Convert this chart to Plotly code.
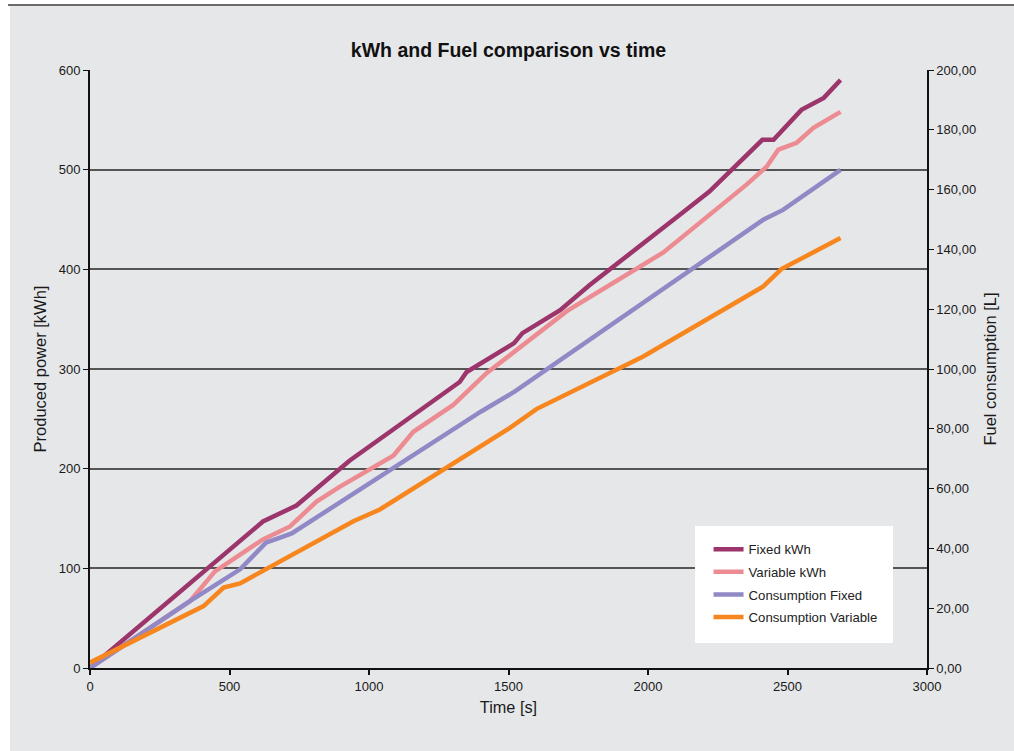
import plotly.graph_objects as go

# ---- data ----
fixed_kwh_t = [0, 620, 740, 930, 1325, 1350, 1520, 1550, 1685, 1790, 2120, 2220, 2410, 2450, 2550, 2630, 2690]
fixed_kwh_v = [0, 147, 163, 208, 287, 297, 326, 336, 359, 384, 456, 478, 530, 530, 560, 572, 590]

var_kwh_t = [0, 358, 448, 620, 717, 812, 896, 1087, 1159, 1302, 1422, 1709, 2055, 2353, 2425, 2467, 2533, 2593, 2690]
var_kwh_v = [0, 67, 97, 129, 142, 167, 182, 213, 237, 264, 296, 358, 417, 485, 503, 520, 527, 542, 558]

cons_fixed_t = [0, 358, 538, 631, 723, 1402, 1523, 2413, 2484, 2690]
cons_fixed_v = [0, 22.4, 33.0, 41.9, 45.0, 85.8, 92.5, 149.9, 153.2, 166.6]

cons_var_t = [0, 407, 479, 538, 944, 1039, 1505, 1600, 1983, 2413, 2478, 2690]
cons_var_v = [1.8, 20.7, 26.9, 28.3, 49.1, 53.0, 80.3, 86.6, 104.2, 127.6, 133.4, 143.8]

series_names = ["Fixed kWh", "Variable kWh", "Consumption Fixed", "Consumption Variable"]
colors = ["#9c356b", "#ec8c92", "#9189c6", "#f7861e"]

FONT = "Liberation Sans, Arial, Helvetica, sans-serif"

fig = go.Figure()
fig.add_trace(go.Scatter(x=fixed_kwh_t, y=fixed_kwh_v, mode="lines", name=series_names[0],
                         legendgroup="g1", line=dict(color=colors[0], width=4.5)))
fig.add_trace(go.Scatter(x=var_kwh_t, y=var_kwh_v, mode="lines", name=series_names[1],
                         legendgroup="g2", line=dict(color=colors[1], width=4.5)))
fig.add_trace(go.Scatter(x=cons_fixed_t, y=cons_fixed_v, mode="lines", name=series_names[2],
                         legendgroup="g3", line=dict(color=colors[2], width=4.5), yaxis="y2"))
fig.add_trace(go.Scatter(x=cons_var_t, y=cons_var_v, mode="lines", name=series_names[3],
                         legendgroup="g4", line=dict(color=colors[3], width=4.5), yaxis="y2"))

# grey panel background and top rule
fig.add_shape(type="rect", xref="paper", yref="paper", x0=-0.0956, x1=1.12, y0=-0.145, y1=1.107,
              fillcolor="#e6e7e9", line=dict(width=0), layer="below")
fig.add_shape(type="line", xref="paper", yref="paper", x0=-0.098, x1=1.12, y0=1.1087, y1=1.1087,
              line=dict(color="#6b6b6b", width=2), layer="below")
# white legend box
fig.add_shape(type="rect", xref="paper", yref="paper", x0=0.7228, x1=0.9594, y0=0.0418, y1=0.2375,
              fillcolor="white", line=dict(width=0), layer="above")

fig.update_layout(
    width=1014, height=751,
    margin=dict(l=90, r=87, t=70, b=83),
    paper_bgcolor="white",
    plot_bgcolor="rgba(0,0,0,0)",
    separators=",.",
    font=dict(family=FONT, size=13, color="#1a1a1a"),
    title=dict(text="<b>kWh and Fuel comparison vs time</b>", x=0.5, xref="paper", xanchor="center",
               y=1 - 50 / 751, yref="container", yanchor="middle", font=dict(size=19.5, color="#111")),
    showlegend=True,
    legend=dict(x=0.739, y=0.224, xanchor="left", yanchor="top", bgcolor="rgba(0,0,0,0)",
                borderwidth=0, font=dict(size=13.2, color="#222"), tracegroupgap=2.5,
                itemwidth=30, traceorder="grouped"),
    xaxis=dict(range=[0, 3000], dtick=500, showgrid=False, zeroline=False,
               showline=True, linecolor="#111", linewidth=2, ticks="outside", ticklen=5,
               tickcolor="#111", tickwidth=1.5, separatethousands=False,
               title=dict(text="Time [s]", font=dict(size=16.3), standoff=9),
               tickfont=dict(size=13)),
    yaxis=dict(range=[0, 600], dtick=100, showgrid=True, gridcolor="#555555", gridwidth=1.5,
               zeroline=False, showline=True, linecolor="#111", linewidth=2,
               ticks="outside", ticklen=5, tickcolor="#111", tickwidth=1.2,
               title=dict(text="Produced power [kWh]", font=dict(size=16.5), standoff=8),
               tickfont=dict(size=13)),
    yaxis2=dict(range=[0, 200], dtick=20, overlaying="y", side="right", showgrid=False,
                zeroline=False, showline=True, linecolor="#111", linewidth=1.5,
                ticks="outside", ticklen=5, tickcolor="#111", tickwidth=1.2, tickformat=".2f",
                title=dict(text="Fuel consumption [L]", font=dict(size=16.5), standoff=9),
                tickfont=dict(size=13)),
)

fig.write_html("out.html", config={"displayModeBar": False},
               post_script="document.body.style.margin='0';document.body.style.overflow='hidden';")
